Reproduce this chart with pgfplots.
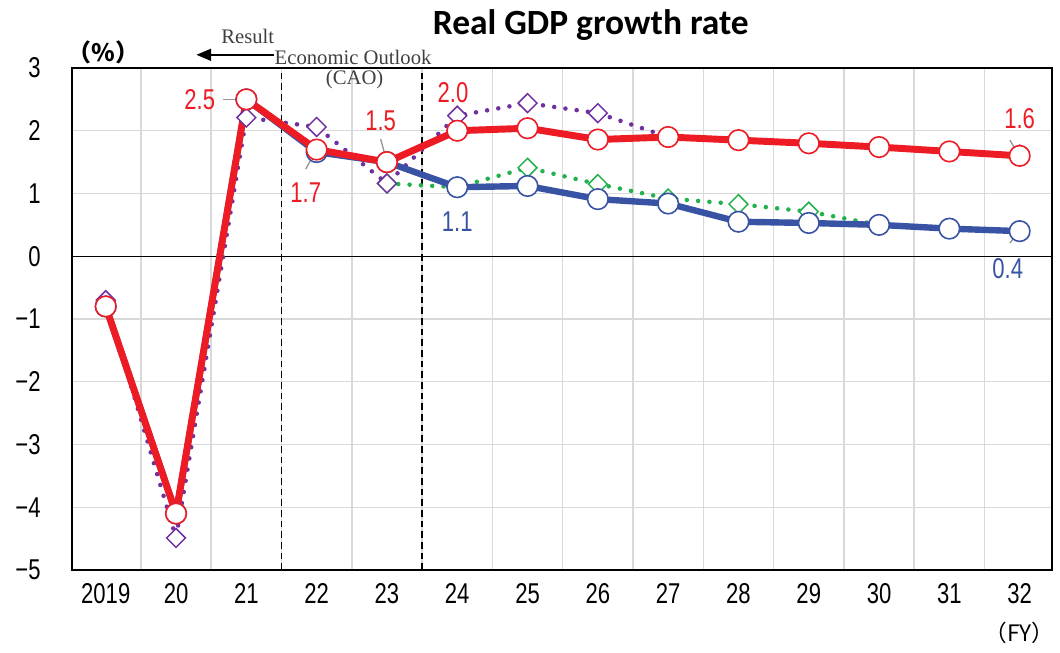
\documentclass[border=0pt]{standalone}
\usepackage{fontspec}
\usepackage{pgfplots}
\pgfplotsset{compat=1.18}
\usetikzlibrary{arrows.meta}
\setmainfont{Liberation Sans}
\newfontfamily\narrow[FakeStretch=0.77]{Liberation Sans}
\newfontfamily\titlefont{Carlito}
\newfontfamily\notefont{Liberation Serif}
\newfontfamily\cjk{Noto Sans CJK JP}
\definecolor{gdpred}{RGB}{237,28,36}
\definecolor{gdpblue}{RGB}{57,83,164}
\definecolor{gdppurple}{RGB}{112,48,160}
\definecolor{gdpgreen}{RGB}{34,177,76}
\definecolor{gridgray}{RGB}{217,217,217}
\definecolor{leader}{RGB}{150,150,150}
\definecolor{notegray}{RGB}{64,64,64}

\begin{document}
\begin{tikzpicture}
\begin{axis}[
  scale only axis,
  width=735pt, height=376.5pt,
  xmin=-0.48, xmax=13.46,
  ymin=-5, ymax=3,
  xtick={0,...,13},
  xticklabels={2019,20,21,22,23,24,25,26,27,28,29,30,31,32},
  ytick={-5,...,3},
  yticklabels={−5,−4,−3,−2,−1,0,1,2,3},
  minor xtick={0.5,1.5,...,12.5},
  major tick length=0pt, minor tick length=0pt,
  xmajorgrids=false, xminorgrids=true, ymajorgrids=true,
  grid style={gridgray, line width=1.1pt},
  minor grid style={gridgray, line width=1.1pt},
  axis line style={black, line width=1.6pt},
  tick label style={font=\narrow\fontsize{21.5}{24}\selectfont, text=black},
  xticklabel style={yshift=-6.5pt},
  yticklabel style={xshift=-20pt},
  clip=false,
]
\coordinate (SW) at (rel axis cs:0,0);
\coordinate (NE) at (rel axis cs:1,1);

% zero line and the result / outlook separators
\draw[black, line width=0.9pt] (axis cs:-0.48,0) -- (axis cs:13.46,0);
\draw[black, line width=1.2pt, dash pattern=on 5pt off 3pt] (axis cs:2.5,-5) -- (axis cs:2.5,3);
\draw[black, line width=1.2pt, dash pattern=on 5pt off 3pt] (axis cs:4.5,-5) -- (axis cs:4.5,3);

% previous outlook, baseline case
\addplot[gdpgreen, line width=3.4pt, line cap=round, dash pattern=on 0pt off 8.5pt,
  mark=square*, mark size=5pt,
  mark options={solid, rotate=45, fill=white, draw=gdpgreen, line width=1.1pt}]
  coordinates {(4,1.16) (5,1.10) (6,1.41) (7,1.15) (8,0.92) (9,0.83) (10,0.71) (11,0.50) (12,0.44) (13,0.40)};

% previous outlook, growth-achieved case
\addplot[gdppurple, line width=3.4pt, line cap=round, dash pattern=on 0pt off 8.5pt,
  mark=square*, mark size=5pt,
  mark options={solid, rotate=45, fill=white, draw=gdppurple, line width=1.1pt}]
  coordinates {(0,-0.70) (1,-4.49) (2,2.21) (3,2.06) (4,1.16) (5,2.24) (6,2.44) (7,2.28) (8,1.90) (9,1.84) (10,1.79) (11,1.74) (12,1.67) (13,1.62)};

% baseline case
\addplot[gdpblue, line width=4.8pt, line join=round,
  mark=*, mark size=7.7pt,
  mark options={fill=white, draw=gdpblue, line width=1.2pt}]
  coordinates {(0,-0.80) (1,-4.10) (2,2.50) (3,1.66) (4,1.50) (5,1.10) (6,1.12) (7,0.91) (8,0.84) (9,0.55) (10,0.53) (11,0.50) (12,0.44) (13,0.40)};

% growth-achieved case
\addplot[gdpred, line width=5.2pt, line join=round,
  mark=*, mark size=7.7pt,
  mark options={fill=white, draw=gdpred, line width=1.2pt}]
  coordinates {(0,-0.80) (1,-4.10) (2,2.50) (3,1.70) (4,1.50) (5,2.00) (6,2.04) (7,1.86) (8,1.90) (9,1.85) (10,1.80) (11,1.74) (12,1.67) (13,1.60)};

% leader lines
\draw[leader, line width=1pt] (axis cs:1.664,2.50) -- (axis cs:2.0,2.50);
\draw[leader, line width=1pt] (axis cs:2.845,1.39) -- (axis cs:3.0,1.70);
\draw[leader, line width=1pt] (axis cs:3.91,1.87) -- (axis cs:4.0,1.50);
\draw[leader, line width=1pt] (axis cs:4.95,2.27) -- (axis cs:5.0,2.00);
\draw[leader, line width=1pt] (axis cs:12.86,1.85) -- (axis cs:13.0,1.60);
\draw[leader, line width=1pt] (axis cs:12.86,0.21) -- (axis cs:13.0,0.40);

% value labels
\begin{scope}[every node/.style={font=\narrow\fontsize{21.5}{24}\selectfont, inner sep=0pt}]
\node[text=gdpred] at (axis cs:1.337,2.49) {2.5};
\node[text=gdpred] at (axis cs:2.845,1.008) {1.7};
\node[text=gdpred] at (axis cs:3.91,2.155) {1.5};
\node[text=gdpred] at (axis cs:4.94,2.60) {2.0};
\node[text=gdpred] at (axis cs:13.0,2.20) {1.6};
\node[text=gdpblue] at (axis cs:5.0,0.545) {1.1};
\node[text=gdpblue] at (axis cs:12.83,-0.19) {0.4};
\end{scope}

% headings and notes above the plot area
\node[font=\titlefont\bfseries\fontsize{26.6}{30}\selectfont, anchor=base] at (axis cs:6.90,3.526) {Real GDP growth rate};
\node[font=\cjk\bfseries\fontsize{18}{20}\selectfont] at (axis cs:-0.03,3.255) {（\%）};
\node[font=\notefont\fontsize{15.5}{18}\selectfont, text=notegray, inner sep=0pt] at (axis cs:2.02,3.51) {Result};
\draw[black, line width=1.1pt, -{Triangle[length=11pt,width=9pt]}] (axis cs:2.40,3.21) -- (axis cs:1.29,3.21);
\node[font=\notefont\fontsize{15.5}{18}\selectfont, text=notegray, anchor=west, inner sep=0pt] at (axis cs:2.40,3.175) {Economic Outlook};
\node[font=\notefont\fontsize{15.5}{18}\selectfont, text=notegray, inner sep=0pt] at (axis cs:3.54,2.81) {(CAO)};
\node[font=\cjk\fontsize{17}{19}\selectfont] at (axis cs:13.0,-6.0) {（FY）};
\end{axis}
\pgfresetboundingbox
\useasboundingbox ([shift={(-54pt,-62.25pt)}]SW) rectangle ([shift={(6pt,51pt)}]NE);
\end{tikzpicture}
\end{document}
